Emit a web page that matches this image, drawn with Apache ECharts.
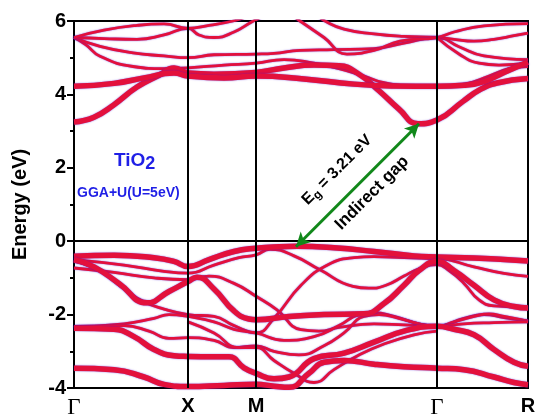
<!DOCTYPE html>
<html>
<head>
<meta charset="utf-8">
<script src="https://cdn.jsdelivr.net/npm/echarts@6/dist/echarts.min.js"></script>
<style>html,body{margin:0;padding:0;background:#fff}#c{width:536px;height:415px}</style>
</head>
<body>
<div id="c"></div>
<script>
// k-path high-symmetry positions and labels
const kTicks = [0, 114, 182, 363, 454];
const kLabels = ['Γ', 'X', 'M', 'Γ', 'R'];
const vLines = [114, 182, 363];
const gapArrow = [[222, -0.15], [345, 3.2]];

// Conduction bands [k, E]
const cb1 = [[0,3.25],[20,3.38],[40,3.72],[63,4.2],[85,4.52],[100,4.72],[114,4.58],[140,4.55],[182,4.6],[210,4.72],[240,4.8],[265,4.78],[285,4.55],[305,4.1],[325,3.6],[344,3.2],[363,3.3],[389,3.81],[406,4.13],[423,4.31],[454,4.43]];
const cb2 = [[0,4.22],[40,4.3],[70,4.45],[100,4.58],[114,4.5],[150,4.45],[182,4.5],[230,4.42],[280,4.28],[320,4.23],[363,4.22],[390,4.25],[410,4.35],[430,4.6],[454,4.88]];
const cb3 = [[0,5.55],[12,5.35],[26,5.04],[59,4.76],[90,4.7],[114,4.72],[150,4.8],[182,4.85],[210,4.95],[240,4.85],[265,4.7],[290,4.5],[310,4.32],[340,4.23],[363,4.22],[390,4.28],[415,4.5],[435,4.7],[454,4.76]];
const cb4 = [[0,5.55],[26,5.31],[59,5.13],[90,5.05],[114,5.0],[140,5.08],[182,5.1],[200,5.12],[226,5.2],[260,5.22],[300,5.25],[330,5.4],[363,5.55],[385,5.3],[410,5.05],[454,4.95]];
const cb5 = [[0,5.55],[30,5.52],[63,5.5],[90,5.62],[114,5.8],[125,5.62],[140,5.55],[160,5.7],[178,5.98],[190,6.15],[210,6.5],[240,6.2],[251,6.0],[270,5.78],[300,5.65],[330,5.58],[363,5.55],[380,5.5],[400,5.45],[420,5.5],[440,5.6],[454,5.67]];
const cb6 = [[0,5.55],[30,5.75],[63,5.88],[90,5.92],[114,5.8],[135,5.88],[159,6.0],[175,6.15],[190,6.4],[210,6.3],[226,6.0],[250,5.55],[273,5.1],[300,5.2],[326,5.45],[363,5.55],[380,5.7],[410,5.87],[454,5.93]];
const cb7 = [[363,5.55],[385,5.1],[405,4.85],[425,4.8],[454,4.85]];

// Valence bands [k, E]
const vb1 = [[0,-0.41],[40,-0.38],[80,-0.45],[100,-0.55],[114,-0.69],[135,-0.5],[160,-0.28],[182,-0.19],[205,-0.15],[223,-0.14],[260,-0.18],[300,-0.28],[340,-0.4],[363,-0.43],[400,-0.46],[430,-0.5],[454,-0.54]];
const vb2 = [[0,-0.5],[50,-0.65],[90,-0.82],[114,-0.87],[140,-0.65],[165,-0.45],[182,-0.37],[196,-0.22],[220,-0.4],[246,-0.78],[279,-1.23],[295,-1.28],[312,-1.2],[330,-0.95],[345,-0.75],[363,-0.64],[375,-0.8],[390,-1.15],[405,-1.6],[420,-1.76],[454,-1.8]];
const vb3 = [[0,-0.73],[40,-0.85],[80,-1.0],[114,-1.05],[135,-0.95],[160,-1.15],[182,-1.5],[203,-1.87],[227,-2.41],[245,-2.45],[265,-2.35],[300,-2.25],[330,-2.28],[363,-2.32],[390,-2.1],[410,-2.0],[430,-2.08],[454,-2.18]];
const vb4 = [[0,-0.5],[20,-0.7],[45,-1.15],[73,-1.68],[95,-1.37],[114,-1.1],[123,-0.98],[140,-1.3],[160,-1.9],[175,-2.12],[182,-2.14],[215,-2.05],[250,-2.0],[290,-1.98],[310,-1.7],[330,-1.2],[345,-0.8],[363,-0.55],[380,-0.8],[400,-1.2],[420,-1.6],[440,-1.78],[454,-1.82]];
const vb5 = [[0,-0.55],[25,-0.8],[50,-1.3],[70,-1.65],[90,-1.85],[114,-2.0],[140,-2.05],[160,-2.3],[182,-2.5],[200,-2.1],[227,-1.2],[254,-0.64],[280,-0.45],[300,-0.42],[330,-0.45],[363,-0.47],[400,-0.7],[430,-0.88],[454,-0.96]];
const vb6 = [[0,-2.32],[50,-2.25],[80,-2.1],[95,-2.0],[114,-2.05],[140,-2.2],[160,-2.4],[182,-2.5],[210,-2.7],[240,-2.6],[265,-2.3],[285,-2.0],[300,-1.95],[320,-2.05],[345,-2.25],[363,-2.32],[380,-2.2],[400,-2.05],[415,-1.98],[430,-2.05],[454,-2.18]];
const vb7 = [[0,-2.35],[50,-2.3],[75,-2.45],[95,-2.65],[114,-2.63],[140,-2.7],[160,-2.9],[182,-2.85],[200,-3.0],[225,-3.1],[250,-2.85],[270,-2.5],[290,-2.05],[305,-2.0],[325,-2.1],[345,-2.25],[363,-2.32],[390,-2.25],[420,-2.22],[454,-2.2]];
const vb8 = [[0,-2.37],[40,-2.4],[60,-2.6],[80,-2.95],[100,-3.12],[114,-3.14],[140,-3.15],[155,-3.15],[170,-3.45],[182,-3.6],[200,-3.75],[215,-3.7],[240,-3.2],[270,-3.05],[300,-2.75],[330,-2.45],[363,-2.32],[380,-2.4],[400,-2.55],[420,-2.95],[440,-3.3],[454,-3.41]];
const vb9 = [[0,-3.46],[40,-3.5],[70,-3.7],[90,-3.9],[114,-3.96],[150,-3.93],[182,-3.9],[200,-3.95],[215,-3.98],[235,-3.6],[250,-3.3],[270,-3.25],[300,-3.35],[330,-3.42],[363,-3.46],[390,-3.5],[420,-3.7],[440,-3.85],[454,-3.91]];
const vb10 = [[114,-2.2],[140,-2.5],[165,-2.9],[182,-2.9],[200,-3.25],[220,-3.6],[240,-3.85],[260,-3.5],[285,-3.1],[310,-2.8],[340,-2.55],[363,-2.45]];

const thick = [cb1, cb2, vb1, vb4, vb8, vb9];
const bands = [cb3, cb4, cb5, cb6, cb7, vb2, vb3, vb5, vb6, vb7, vb10, cb1, cb2, vb1, vb4, vb8, vb9];

const chart = echarts.init(document.getElementById('c'), null, {renderer: 'canvas'});
const series = bands.map(d => ({
  type: 'line', data: d, smooth: 0.5, symbol: 'none', clip: true, silent: true,
  lineStyle: {
    color: '#e3103c', width: thick.includes(d) ? 5.5 : 2.8,
    shadowColor: 'rgba(70,20,210,0.75)', shadowBlur: 1.5
  },
  z: 2
}));
series.push({
  type: 'line', data: [], silent: true, z: 5,
  markLine: {
    silent: true, symbol: 'none', animation: false,
    label: {show: false},
    data: vLines.map(v => ({xAxis: v, lineStyle: {color: '#000', width: 2, type: 'solid'}}))
      .concat([{yAxis: 0, lineStyle: {color: '#000', width: 1.5, type: [8, 5]}}])
  }
});
series.push({
  type: 'line', data: [], silent: true, z: 6,
  markLine: {
    silent: true, animation: false, symbol: ['arrow', 'arrow'], symbolSize: [11, 14],
    label: {show: false},
    lineStyle: {color: '#11881a', width: 3, type: 'solid'},
    data: [[{coord: gapArrow[0]}, {coord: gapArrow[1]}]]
  }
});

chart.setOption({
  animation: false,
  backgroundColor: '#fff',
  grid: {left: 74, top: 21, right: 8, bottom: 27, containLabel: false, outerBoundsMode: 'none',
    show: true, borderColor: '#000', borderWidth: 2, backgroundColor: 'transparent'},
  xAxis: {
    type: 'value', min: 0, max: 454,
    axisLine: {show: true, lineStyle: {color: '#000', width: 2}},
    axisTick: {show: false},
    splitLine: {show: false},
    axisLabel: {
      customValues: kTicks, margin: 8, color: '#000',
      formatter: v => { const l = kLabels[kTicks.indexOf(v)]; return l === 'Γ' ? '{g|Γ}' : '{b|' + l + '}'; },
      rich: {
        g: {fontFamily: 'Liberation Serif', fontSize: 23, fontWeight: 'normal', color: '#000'},
        b: {fontFamily: 'Liberation Sans', fontSize: 20, fontWeight: 'bold', color: '#000'}
      }
    }
  },
  yAxis: [{
    type: 'value', min: -4, max: 6, interval: 2,
    name: 'Energy (eV)', nameLocation: 'middle', nameGap: 44,
    nameTextStyle: {fontFamily: 'Liberation Sans', fontSize: 20, fontWeight: 'bold', color: '#000'},
    axisLine: {show: true, lineStyle: {color: '#000', width: 2}},
    axisTick: {show: true, inside: false, length: 7, lineStyle: {color: '#000', width: 2}},
    splitLine: {show: false},
    axisLabel: {fontFamily: 'Liberation Sans', fontSize: 20, fontWeight: 'bold', color: '#000', margin: 8}
  }, {
    type: 'value', min: -4, max: 6, interval: 1, position: 'left',
    axisLine: {show: false},
    axisTick: {show: true, inside: false, length: 4, lineStyle: {color: '#000', width: 2}},
    axisLabel: {show: false},
    splitLine: {show: false}
  }],
  graphic: [
    {type: 'text', left: 114, top: 151, style: {
      text: '{a|TiO}{s|2}', rich: {
        a: {fontFamily: 'Liberation Sans', fontSize: 19, fontWeight: 'bold', fill: '#1f1fe6'},
        s: {fontFamily: 'Liberation Sans', fontSize: 18, fontWeight: 'bold', fill: '#1f1fe6', padding: [8, 0, 0, 0]}
      }}},
    {type: 'text', left: 77, top: 186, style: {text: 'GGA+U(U=5eV)', fontFamily: 'Liberation Sans', fontSize: 14, fontWeight: 'bold', fill: '#1f1fe6'}},
    {type: 'text', x: 337, y: 170, rotation: Math.PI / 4, style: {
      text: '{e|E}{g|g}{e| = 3.21 eV}', align: 'center', verticalAlign: 'middle', rich: {
        e: {fontFamily: 'Liberation Sans', fontSize: 16, fontWeight: 'bold', fill: '#000'},
        g: {fontFamily: 'Liberation Sans', fontSize: 12, fontWeight: 'bold', fill: '#000', padding: [8, 0, 0, 0]}
      }}},
    {type: 'text', x: 372, y: 193, rotation: Math.PI / 4, style: {
      text: 'Indirect gap', align: 'center', verticalAlign: 'middle',
      fontFamily: 'Liberation Sans', fontSize: 17, fontWeight: 'bold', fill: '#000'}}
  ],
  series: series
});
</script>
</body>
</html>
